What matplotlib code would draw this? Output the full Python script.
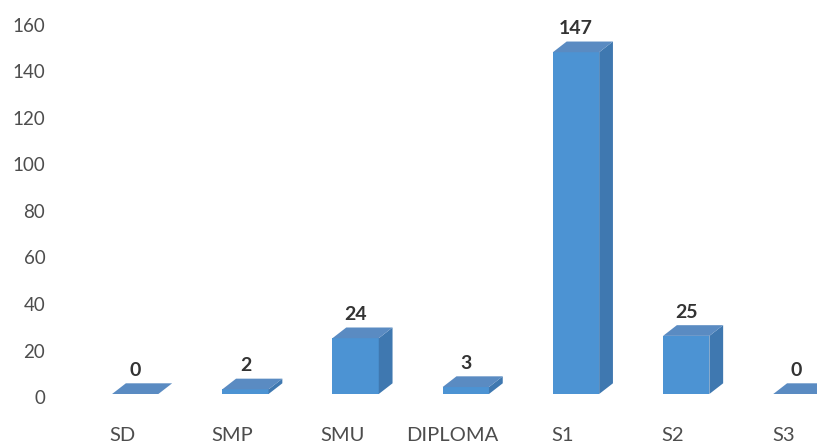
import matplotlib
matplotlib.use("Agg")
import matplotlib.pyplot as plt
from matplotlib.patches import Polygon
import matplotlib.transforms as mtransforms

categories = ["SD", "SMP", "SMU", "DIPLOMA", "S1", "S2", "S3"]
values = [0, 2, 24, 3, 147, 25, 0]
yticks = [0, 20, 40, 60, 80, 100, 120, 140, 160]

W, H = 817, 443
fig = plt.figure(figsize=(W / 100, H / 100), dpi=100)
fig.patch.set_facecolor("white")

# axes placement in pixels
left_px, right_px = 55, 817
y0_px, y160_px = 394, 22  # from top
ax = fig.add_axes([left_px / W, (H - y0_px) / H, (right_px - left_px) / W, (y0_px - y160_px) / H])
ax.set_facecolor("none")

step_px = 110.2
first_px = 122
ax.set_xlim((left_px - first_px) / step_px, (right_px - first_px) / step_px)
ax.set_ylim(0, 160)

FONT = ["Lato", "DejaVu Sans"]
front_col = "#4c93d3"
side_col = "#3f78b0"
top_col = "#5a8bc2"

shift = 0.12      # bar offset from category label (style)
bw = 0.42         # front face width
dx = 0.125        # depth in x (data units)
dy = 4.6          # depth in y (data units)

for i, v in enumerate(values):
    x0 = i + shift - bw / 2
    x1 = x0 + bw
    if v > 0:
        ax.bar(x0, v, width=bw, align="edge", color=front_col, linewidth=0, zorder=3)
        side = Polygon([(x1, 0), (x1 + dx, dy), (x1 + dx, v + dy), (x1, v)],
                       closed=True, facecolor=side_col, edgecolor="none", zorder=3)
        ax.add_patch(side)
    top = Polygon([(x0, v), (x1, v), (x1 + dx, v + dy), (x0 + dx, v + dy)],
                  closed=True, facecolor=top_col, edgecolor="none", zorder=4)
    ax.add_patch(top)
    ax.annotate(str(v), xy=(i + shift, v + dy), xytext=(0, 3), textcoords="offset points",
                ha="center", va="bottom", fontsize=14, fontweight="bold",
                color="#333333", family=FONT, zorder=5)

ax.set_yticks(yticks)
ax.set_yticklabels([str(t) for t in yticks], family=FONT, fontsize=13.5, color="#4d4d4d")
ax.tick_params(axis="y", length=0, pad=7)
offset = mtransforms.ScaledTranslation(0, -3 / 100, fig.dpi_scale_trans)
for lab in ax.get_yticklabels():
    lab.set_transform(lab.get_transform() + offset)

ax.set_xticks(range(len(categories)))
ax.set_xticklabels(categories, family=FONT, fontsize=14.5, color="#4d4d4d")
ax.tick_params(axis="x", length=0, pad=24)

for s in ax.spines.values():
    s.set_visible(False)

fig.savefig("out.png", dpi=100)
